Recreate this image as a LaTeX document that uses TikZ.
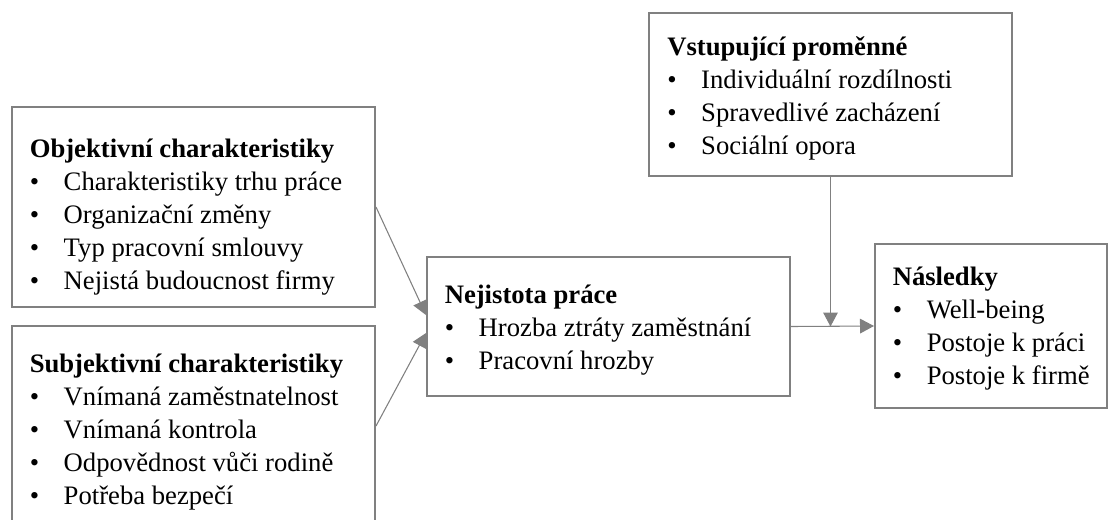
\documentclass[tikz,border=0pt]{standalone}
\usepackage{fontspec}
\setmainfont{Liberation Serif}
\usetikzlibrary{arrows.meta,calc}
\definecolor{boxgray}{RGB}{128,128,128}
\newcommand\hd[1]{\multicolumn{2}{@{}l@{}}{\bfseries #1}}
\newcommand\bl{\textbullet}
\begin{document}
\begin{tikzpicture}[x=0.75pt,y=-0.75pt,
  box/.style={draw=boxgray,line width=1.5pt,inner sep=0pt,rectangle},
  lbl/.style={anchor=base west,inner sep=0pt,font=\fontsize{20}{24.75}\selectfont},
  conn/.style={draw=boxgray,line width=0.8pt,-{Triangle[length=10.5pt,width=11pt]}}]
\useasboundingbox (0,0) rectangle (1110,519);
% boxes
\node[box,minimum width=272.25pt,minimum height=150pt] (obj) at (193.5,207) {};
\node[box,minimum width=272.25pt,minimum height=150pt] (subj) at (193.5,426) {};
\node[box,minimum width=272.25pt,minimum height=104.25pt] (nej) at (608.5,326.5) {};
\node[box,minimum width=174pt,minimum height=123pt] (nas) at (991,326) {};
\node[box,minimum width=272.25pt,minimum height=122.25pt] (vst) at (830.5,94.5) {};
% texts
\node[lbl] (tobj) at (29.5,157) {\begin{tabular}[t]{@{}p{25.5pt}@{}l@{}}
\hd{Objektivní charakteristiky}\\
\bl & Charakteristiky trhu práce\\
\bl & Organizační změny\\
\bl & Typ pracovní smlouvy\\
\bl & Nejistá budoucnost firmy
\end{tabular}};
\node[lbl] (tsubj) at (29.5,372) {\begin{tabular}[t]{@{}p{25.5pt}@{}l@{}}
\hd{Subjektivní charakteristiky}\\
\bl & Vnímaná zaměstnatelnost\\
\bl & Vnímaná kontrola\\
\bl & Odpovědnost vůči rodině\\
\bl & Potřeba bezpečí
\end{tabular}};
\node[lbl] (tnej) at (444.5,303) {\begin{tabular}[t]{@{}p{25.5pt}@{}l@{}}
\hd{Nejistota práce}\\
\bl & Hrozba ztráty zaměstnání\\
\bl & Pracovní hrozby
\end{tabular}};
\node[lbl] (tnas) at (892.5,285) {\begin{tabular}[t]{@{}p{25.5pt}@{}l@{}}
\hd{Následky}\\
\bl & Well-being\\
\bl & Postoje k práci\\
\bl & Postoje k firmě
\end{tabular}};
\node[lbl] (tvst) at (667,55) {\begin{tabular}[t]{@{}p{25.5pt}@{}l@{}}
\hd{Vstupující proměnné}\\
\bl & Individuální rozdílnosti\\
\bl & Spravedlivé zacházení\\
\bl & Sociální opora
\end{tabular}};
% connectors
\draw[conn] (obj.east) -- ([yshift=8.6pt]nej.west);
\draw[conn] (subj.east) -- ([yshift=-4.9pt]nej.west);
\draw[conn] (nej.east) -- (nas.west);
\draw[conn] (vst.south) -- (vst.south |- nej.east);
\end{tikzpicture}
\end{document}
